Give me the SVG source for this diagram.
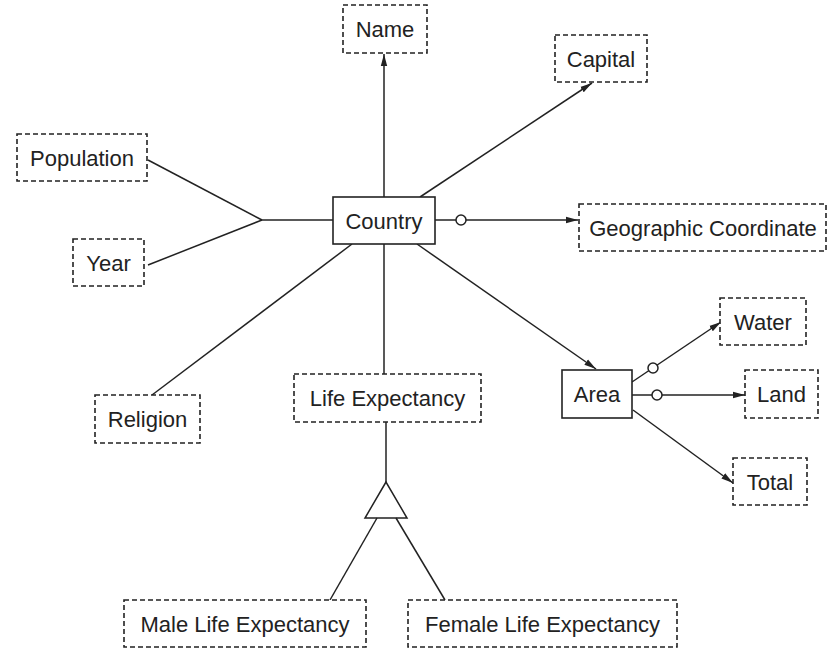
<svg xmlns="http://www.w3.org/2000/svg" width="829" height="654" viewBox="0 0 829 654">
<style>
.ent{fill:#fff;stroke:#222;stroke-width:1.6}
.attr{fill:#fff;stroke:#222;stroke-width:1.6;stroke-dasharray:5,3}
.t{font-family:"Liberation Sans",Arial,sans-serif;font-size:22px;fill:#222;text-anchor:middle}
.ln{stroke:#222;stroke-width:1.5;fill:none}
.circ{fill:#fff;stroke:#222;stroke-width:1.5}
</style>
<defs>
<marker id="arr" viewBox="0 0 12 8" refX="12" refY="4" markerWidth="12" markerHeight="8" markerUnits="userSpaceOnUse" orient="auto">
<path d="M0,0.8 L12,4 L0,7.2 Z" fill="#222"/>
</marker>
</defs>
<rect width="829" height="654" fill="#fff"/>
<g id="connectors">
<line class="ln" x1="384" y1="197" x2="384" y2="54" marker-end="url(#arr)"/>
<line class="ln" x1="420" y1="197" x2="592" y2="83" marker-end="url(#arr)"/>
<line class="ln" x1="435" y1="220" x2="578" y2="220" marker-end="url(#arr)"/>
<circle class="circ" cx="461" cy="220" r="5"/>
<line class="ln" x1="417" y1="244" x2="596" y2="369" marker-end="url(#arr)"/>
<line class="ln" x1="384" y1="244" x2="384" y2="374"/>
<line class="ln" x1="333" y1="220" x2="262" y2="220"/>
<line class="ln" x1="148" y1="160" x2="262" y2="220"/>
<line class="ln" x1="148" y1="265" x2="262" y2="220"/>
<line class="ln" x1="152" y1="395" x2="352" y2="244"/>
<line class="ln" x1="386" y1="422" x2="386" y2="482"/>
<polygon class="ln" points="386,482 365,518 407,518"/>
<line class="ln" x1="377" y1="518" x2="330" y2="600"/>
<line class="ln" x1="396" y1="518" x2="445" y2="600"/>
<line class="ln" x1="632" y1="382" x2="721" y2="322" marker-end="url(#arr)"/>
<circle class="circ" cx="653" cy="368" r="5"/>
<line class="ln" x1="632" y1="395" x2="745" y2="395" marker-end="url(#arr)"/>
<circle class="circ" cx="657" cy="395" r="5"/>
<line class="ln" x1="633" y1="410" x2="733" y2="483" marker-end="url(#arr)"/>
</g>
<g id="country"><rect class="ent" x="333" y="197" width="102" height="47"/><text class="t" x="384" y="228.5">Country</text></g>
<g id="area"><rect class="ent" x="562" y="370" width="70" height="48"/><text class="t" x="597" y="402">Area</text></g>
<g id="name"><rect class="attr" x="343" y="5" width="84" height="48"/><text class="t" x="385" y="37">Name</text></g>
<g id="capital"><rect class="attr" x="555" y="35" width="92" height="47"/><text class="t" x="601" y="66.5">Capital</text></g>
<g id="population"><rect class="attr" x="17" y="134" width="130" height="47"/><text class="t" x="82" y="165.5">Population</text></g>
<g id="year"><rect class="attr" x="73" y="239" width="71" height="47"/><text class="t" x="108.5" y="270.5">Year</text></g>
<g id="geo"><rect class="attr" x="579" y="204" width="247" height="47"/><text class="t" x="703" y="235.5">Geographic Coordinate</text></g>
<g id="water"><rect class="attr" x="720" y="298" width="86" height="47"/><text class="t" x="763" y="329.5">Water</text></g>
<g id="land"><rect class="attr" x="745" y="370" width="73" height="48"/><text class="t" x="781.5" y="402">Land</text></g>
<g id="total"><rect class="attr" x="733" y="458" width="74" height="47"/><text class="t" x="770" y="489.5">Total</text></g>
<g id="religion"><rect class="attr" x="95" y="395" width="105" height="48"/><text class="t" x="147.5" y="427">Religion</text></g>
<g id="lifeexp"><rect class="attr" x="294" y="374" width="187" height="48"/><text class="t" x="387.5" y="406">Life Expectancy</text></g>
<g id="male"><rect class="attr" x="124" y="600" width="242" height="47"/><text class="t" x="245" y="631.5">Male Life Expectancy</text></g>
<g id="female"><rect class="attr" x="408" y="600" width="269" height="47"/><text class="t" x="542.5" y="631.5">Female Life Expectancy</text></g>
</svg>
